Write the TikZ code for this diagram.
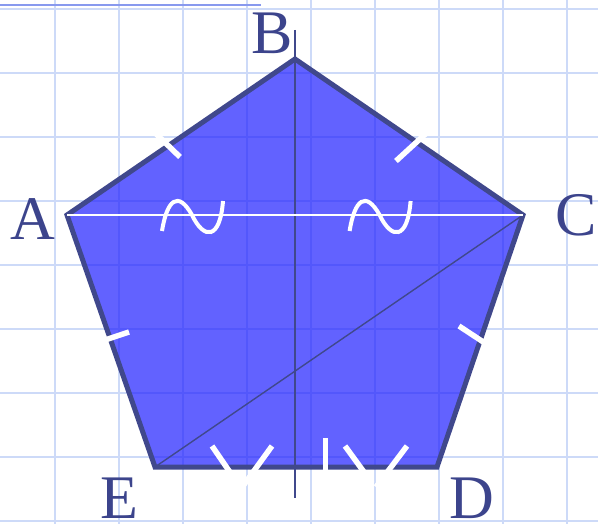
\documentclass[tikz,border=0pt]{standalone}
\usepackage{fontspec}
\setmainfont{Liberation Serif}
\usepackage{xcolor}
\usetikzlibrary{math}
\definecolor{gridblue}{RGB}{205,218,248}
\definecolor{penblue}{RGB}{32,32,255}
\definecolor{edgeblue}{RGB}{64,72,140}
\definecolor{labelblue}{RGB}{60,68,140}
\definecolor{topblue}{RGB}{136,153,238}

\begin{document}
\begin{tikzpicture}[x=1pt,y=-1pt,
  hashmark/.style={white,line width=5.5},
  vlabel/.style={text=labelblue,inner sep=0,font=\fontsize{62}{62}\selectfont}]
\tikzmath{
\G=64;
}
\useasboundingbox (0,0) rectangle (598,524);

% grid
\foreach \k in {0,...,8}{
  \draw[gridblue,line width=2] (55+\G*\k,0) -- (55+\G*\k,524);
  \draw[gridblue,line width=2] (0,8.7+\G*\k) -- (598,8.7+\G*\k);
}
\draw[topblue,line width=2.5] (0,5) -- (261,5);

\coordinate (A) at (67,215);
\coordinate (B) at (295,59);
\coordinate (C) at (523,215);
\coordinate (D) at (437,467);
\coordinate (E) at (155,467);
\coordinate (top) at (295,30);
\coordinate (bot) at (295,498);

\fill[penblue,fill opacity=0.7] (A) -- (B) -- (C) -- (D) -- (E) -- cycle;

\draw[edgeblue,line width=1.8] (top) -- (bot);
\draw[edgeblue,line width=1.4] (C) -- (E);
\draw[edgeblue,line width=5] (A) -- (B) -- (C) -- (D) -- (E) -- cycle;
\draw[white,line width=2] (A) -- (C);

% equal sides
\draw[hashmark] (150,128) -- (180,157);
\draw[hashmark] (432,128) -- (396,161);
\draw[hashmark] (90,345) -- (129,332);
\draw[hashmark] (459,326) -- (500,353);
\draw[hashmark] (212,446) -- (236,481);
\draw[hashmark] (272,446) -- (243,486);
\draw[hashmark] (325.5,438) -- (325.5,482);
\draw[hashmark] (345,446) -- (372,483);
\draw[hashmark] (407,446) -- (376,487);

% similar
\foreach \dx in {0,187.6}{
  \draw[white,line width=4] (162+\dx,231) .. controls (167+\dx,200) and (178+\dx,190) .. (192+\dx,215)
    .. controls (204+\dx,240) and (220+\dx,240) .. (223+\dx,201);
}

\node[vlabel] (labA) at (32.5,219.5) {A};
\node[vlabel] (labB) at (272.5,33) {B};
\node[vlabel] (labC) at (576.5,215) {C};
\node[vlabel] (labD) at (471.5,498) {D};
\node[vlabel] (labE) at (119.7,498) {E};
\end{tikzpicture}
\end{document}
